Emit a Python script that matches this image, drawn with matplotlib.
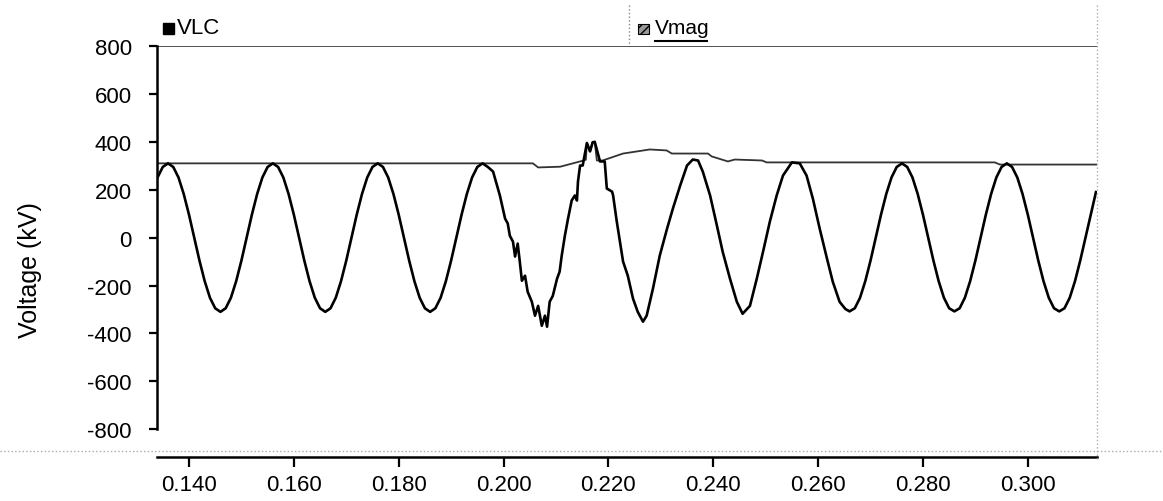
"""
Line-to-line voltage and its magnitude during a fault transient.

Draws the VLC waveform and the Vmag envelope in kV against time (s),
laid out like the scanned figure.  Output: out.png (1163 x 502 px).
"""
import matplotlib
matplotlib.use('Agg')
import matplotlib.pyplot as plt
from matplotlib.patches import Rectangle
from matplotlib.lines import Line2D

plt.rcParams['font.family'] = ['Liberation Sans', 'DejaVu Sans']

# ---------------------------------------------------------------------------
# data (time in s, voltage in kV)

# steady cycles before the fault
vlc_t_pre = [0.134, 0.135, 0.136, 0.137, 0.138, 0.139, 0.140, 0.141, 0.142,
             0.143, 0.144, 0.145, 0.146, 0.147, 0.148, 0.149, 0.150, 0.151,
             0.152, 0.153, 0.154, 0.155, 0.156, 0.157, 0.158, 0.159, 0.160,
             0.161, 0.162, 0.163, 0.164, 0.165, 0.166, 0.167, 0.168, 0.169,
             0.170, 0.171, 0.172, 0.173, 0.174, 0.175, 0.176, 0.177, 0.178,
             0.179, 0.180, 0.181, 0.182, 0.183, 0.184, 0.185, 0.186, 0.187,
             0.188, 0.189, 0.190, 0.191, 0.192, 0.193, 0.194, 0.195, 0.196,
             0.197]
vlc_v_pre = [251, 295, 310, 295, 251, 182, 96, 0, -96,
             -182, -251, -295, -310, -295, -251, -182, -96, 0,
             96, 182, 251, 295, 310, 295, 251, 182, 96,
             0, -96, -182, -251, -295, -310, -295, -251, -182,
             -96, 0, 96, 182, 251, 295, 310, 295, 251,
             182, 96, 0, -96, -182, -251, -295, -310, -295,
             -251, -182, -96, 0, 96, 182, 251, 295, 310,
             295]

# fault and recovery
vlc_t_fault = [0.1980, 0.1993, 0.2003, 0.2008, 0.2012, 0.2018, 0.2022, 0.2027,
               0.2031, 0.2035, 0.2041, 0.2046, 0.2054, 0.2060, 0.2066, 0.2073,
               0.2079, 0.2083, 0.2088, 0.2094, 0.2102, 0.2107, 0.2111, 0.2117,
               0.2123, 0.2130, 0.2136, 0.2140, 0.2142, 0.2146, 0.2151, 0.2159,
               0.2165, 0.2170, 0.2174, 0.2184, 0.2193, 0.2197, 0.2207, 0.2209,
               0.2216, 0.2228, 0.2237, 0.2247, 0.2256, 0.2266, 0.2273, 0.2285,
               0.2298, 0.2312, 0.2323, 0.2337, 0.2350, 0.2361, 0.2371, 0.2380,
               0.2394, 0.2407, 0.2418, 0.2432, 0.2445, 0.2456, 0.2470, 0.2483,
               0.2495, 0.2508, 0.2521, 0.2533, 0.2550, 0.2565, 0.2578, 0.2590,
               0.2603, 0.2617, 0.2628, 0.2641, 0.2652]
vlc_v_fault = [276, 176, 79, 59, 8, -17, -79, -25,
               -100, -180, -159, -226, -268, -326, -285, -368,
               -326, -372, -268, -243, -172, -142, -75, 8,
               79, 155, 176, 155, 234, 301, 301, 395,
               360, 398, 400, 318, 318, 205, 192, 176,
               67, -100, -159, -255, -310, -351, -326, -213,
               -75, 38, 121, 218, 301, 326, 322, 276,
               176, 50, -59, -172, -268, -318, -285, -172,
               -59, 67, 176, 259, 314, 310, 259, 163,
               38, -88, -184, -268, -298]

# steady cycles after the fault
vlc_t_post = [0.266, 0.267, 0.268, 0.269, 0.270, 0.271, 0.272, 0.273, 0.274,
              0.275, 0.276, 0.277, 0.278, 0.279, 0.280, 0.281, 0.282, 0.283,
              0.284, 0.285, 0.286, 0.287, 0.288, 0.289, 0.290, 0.291, 0.292,
              0.293, 0.294, 0.295, 0.296, 0.297, 0.298, 0.299, 0.300, 0.301,
              0.302, 0.303, 0.304, 0.305, 0.306, 0.307, 0.308, 0.309, 0.310,
              0.311, 0.312, 0.313]
vlc_v_post = [-308, -295, -251, -182, -96, 0, 96, 182, 251,
              295, 310, 295, 251, 182, 96, 0, -96, -182,
              -251, -295, -308, -295, -251, -182, -96, 0, 96,
              182, 251, 295, 310, 295, 251, 182, 96, 0,
              -96, -182, -251, -295, -308, -295, -251, -182, -96,
              0, 96, 190]

# magnitude envelope
vmag_t = [0.1339, 0.2056, 0.2066, 0.2108, 0.2146, 0.2157, 0.2159, 0.2165,
          0.2170, 0.2174, 0.2178, 0.2189, 0.2228, 0.2279, 0.2311, 0.2321,
          0.2390, 0.2397, 0.2428, 0.2441, 0.2493, 0.2502, 0.2937, 0.2947,
          0.3131]
vmag_v = [310, 310, 293, 296, 318, 325, 395, 360,
          398, 400, 322, 322, 351, 368, 364, 351,
          351, 339, 318, 326, 322, 314, 314, 305,
          305]

x_ticks = [0.140, 0.160, 0.180, 0.200, 0.220, 0.240, 0.260, 0.280, 0.300]
y_ticks = [800, 600, 400, 200, 0, -200, -400, -600, -800]

W, H = 1163, 502


# ---------------------------------------------------------------------------
def fx(px):
    return px / W


def fy(py):
    return 1 - py / H


def draw(fig):
    ax = fig.add_axes([fx(157), fy(458), fx(1097) - fx(157), fy(47) - fy(458)])

    vlc_t = vlc_t_pre + vlc_t_fault + vlc_t_post
    vlc_v = vlc_v_pre + vlc_v_fault + vlc_v_post
    ax.plot(vmag_t, vmag_v, color='#333333', lw=1.3, zorder=2)
    ax.plot(vlc_t, vlc_v, color='black', lw=1.9, zorder=3)
    ax.axhline(800, color='#222222', lw=1.1)

    ax.set_xlim(0.1339, 0.3132)
    ax.set_ylim(-916, 800)

    for s in ('top', 'right'):
        ax.spines[s].set_visible(False)
    ax.spines['left'].set_bounds(-800, 800)
    ax.spines['left'].set_linewidth(1.8)
    ax.spines['bottom'].set_linewidth(1.8)

    ax.set_xticks(x_ticks)
    ax.set_xticklabels([f'{t:.3f}' for t in x_ticks])
    ax.set_yticks(y_ticks)
    ax.set_yticklabels([str(v) for v in y_ticks])
    ax.tick_params(axis='y', direction='out', length=6, width=1.6,
                   pad=12, labelsize=16)
    ax.tick_params(axis='x', direction='out', length=7, width=1.6,
                   pad=5, labelsize=16)

    fig.text(fx(30), fy(270), 'Voltage (kV)', rotation=90,
             ha='center', va='center', fontsize=18)

    # legend strip at the top
    fig.patches.append(Rectangle((fx(163), fy(35)), fx(11), fy(24) - fy(35),
                                 transform=fig.transFigure,
                                 facecolor='black', edgecolor='black'))
    fig.text(fx(177), fy(29), 'VLC', ha='left', va='center', fontsize=16)
    fig.patches.append(Rectangle((fx(638), fy(35)), fx(11), fy(25) - fy(35),
                                 transform=fig.transFigure,
                                 facecolor='#999999', edgecolor='black',
                                 hatch='////', lw=0.8))
    fig.text(fx(655), fy(29), 'Vmag', ha='left', va='center', fontsize=15)
    fig.lines.append(Line2D([fx(655), fx(707)], [fy(42), fy(42)],
                            transform=fig.transFigure, color='black', lw=1.5))

    # dotted separators
    fig.lines.append(Line2D([fx(629), fx(629)], [fy(6), fy(46)],
                            transform=fig.transFigure, color='#888888',
                            lw=1.0, ls=':'))
    fig.lines.append(Line2D([fx(1097), fx(1097)], [fy(6), fy(460)],
                            transform=fig.transFigure, color='#aaaaaa',
                            lw=1.0, ls=':'))
    fig.lines.append(Line2D([fx(0), fx(1163)], [fy(452), fy(452)],
                            transform=fig.transFigure, color='#aaaaaa',
                            lw=1.0, ls=':'))
    return ax


# ---------------------------------------------------------------------------
def main():
    fig = plt.figure(figsize=(W / 100, H / 100), dpi=100)
    fig.patch.set_facecolor('white')
    draw(fig)
    fig.savefig('out.png', dpi=100)
    plt.close(fig)


if __name__ == '__main__':
    main()
